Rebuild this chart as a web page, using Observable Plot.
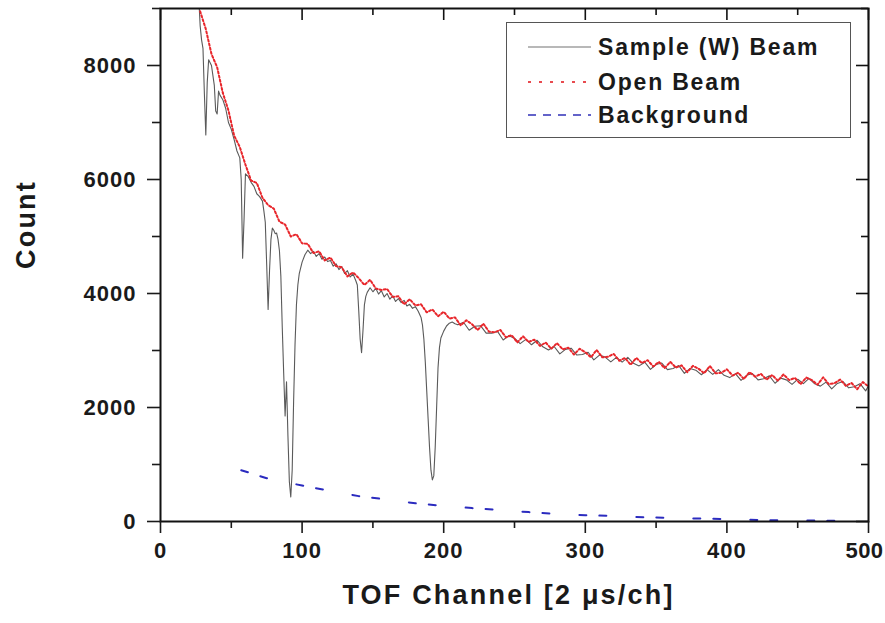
<!DOCTYPE html>
<html>
<head>
<meta charset="utf-8">
<script src="https://cdn.jsdelivr.net/npm/d3@7"></script>
<script src="https://cdn.jsdelivr.net/npm/@observablehq/plot@0.6"></script>
<style>
  body { margin: 0; background: #fff; }
  #wrap { position: relative; width: 885px; height: 623px; overflow: hidden; }
  #legend { position: absolute; left: 506px; top: 22px; width: 343px; height: 114px; border: 1.5px solid #555; background: #fff; }
  #legend text { font-family: "Liberation Sans", Arial, sans-serif; font-weight: bold; font-size: 23px; letter-spacing: 1.8px; fill: #1a1a1a; }
</style>
</head>
<body>
<div id="wrap">
  <div id="chart"></div>
  <div id="legend"></div>
</div>
<script>
// ---- data ----
const openX = [28,32,36,40,44,48,52,56,60,64,68,72,76,80,84,88,92,96,100,104,108,112,116,120,124,128,132,136,140,144,148,152,156,160,164,168,172,176,180,184,188,192,196,200,204,208,212,216,220,224,228,232,236,240,244,248,252,256,260,264,268,272,276,280,284,288,292,296,300,304,308,312,316,320,324,328,332,336,340,344,348,352,356,360,364,368,372,376,380,384,388,392,396,400,404,408,412,416,420,424,428,432,436,440,444,448,452,456,460,464,468,472,476,480,484,488,492,496,500];
const openY = [8950,8640,8200,7970,7520,7210,6770,6570,6260,5980,5940,5680,5550,5490,5260,5210,5000,5040,4880,4870,4710,4740,4580,4630,4480,4460,4300,4370,4270,4150,4240,4090,4060,4080,3940,3950,3810,3900,3790,3810,3670,3720,3600,3680,3560,3580,3440,3530,3460,3360,3470,3330,3320,3360,3230,3270,3140,3250,3150,3190,3080,3140,3030,3130,3020,3050,2930,3030,2970,2880,3010,2880,2890,2940,2820,2870,2750,2870,2780,2830,2720,2800,2690,2800,2700,2740,2620,2730,2680,2600,2730,2600,2610,2670,2560,2610,2500,2620,2540,2590,2490,2570,2470,2580,2480,2520,2410,2525,2480,2400,2530,2410,2425,2490,2380,2430,2320,2445,2370];

const sampleX = [27,28,29,30,31,32,33,34,36,38,39,40,41,42,44,46,48,50,52,54,56,57,58,59,60,62,64,66,68,70,72,73,74,75,76,77,78,79,80,81,82,83,84,85,86,87,88,89,90,91,92,93,94,95,96,97,98,100,102,104,106,108,110,112,114,116,118,120,122,124,126,128,130,132,134,136,138,139,140,141,142,143,144,145,146,148,150,152,154,156,158,160,162,164,166,168,170,172,174,176,178,180,182,184,185,186,187,188,189,190,191,192,193,194,195,196,197,198,200,202,204,206,208,210,214,218,222,226,230,234,238,242,246,250,254,258,262,266,270,274,278,282,286,290,294,298,302,306,310,314,318,322,326,330,334,338,342,346,350,354,358,362,366,370,374,378,382,386,390,394,398,402,406,410,414,418,422,426,430,434,438,442,446,450,454,458,462,466,470,474,478,482,486,490,494,498,500];
const sampleY = [9200,8700,8450,8300,7500,6780,7700,8100,8000,7650,7200,7150,7550,7480,7400,7250,7000,6880,6700,6500,6380,6000,4620,5300,6100,6050,5950,5880,5750,5700,5620,5450,5250,4500,3720,4400,4950,5150,5110,5050,5060,4950,4750,4300,3400,2600,1850,2450,1500,700,430,900,2100,3100,3800,4150,4350,4550,4680,4760,4700,4740,4650,4700,4600,4640,4560,4580,4480,4520,4420,4470,4350,4400,4290,4340,4220,4150,3700,3200,2960,3350,3800,3950,4020,4100,4030,4090,3990,4050,3940,4000,3900,3960,3860,3910,3840,3880,3780,3810,3740,3770,3690,3580,3450,3200,2800,2300,1800,1300,900,730,800,1300,2000,2700,3050,3220,3340,3430,3480,3500,3470,3450,3495,3355,3425,3435,3305,3305,3335,3185,3260,3215,3120,3195,3100,3180,3065,3010,3070,2940,3020,3040,2920,2930,2970,2835,2920,2885,2800,2880,2795,2880,2775,2730,2795,2670,2755,2780,2665,2685,2735,2600,2685,2655,2575,2665,2580,2665,2565,2525,2595,2475,2565,2595,2485,2505,2555,2425,2515,2485,2405,2495,2418,2512,2415,2375,2445,2328,2422,2455,2345,2365,2418,2292,2380];

const bgX = [57,75,100,115,140,155,180,195,220,235,260,275,300,315,345,385,425,470,490];
const bgY = [900,760,630,560,445,400,320,285,235,210,165,140,110,100,72,50,25,15,12];

const xMajor = [0,100,200,300,400,500];
const xMinor = [50,150,250,350,450];
const yMajor = [0,2000,4000,6000,8000];
const yMinor = [1000,3000,5000,7000,9000];

const seriesNames = ["Sample (W) Beam","Open Beam","Background"];
const xTitle = "TOF Channel [2 \u03bcs/ch]";
const yTitle = "Count";

// ---- tables ----
const sample = sampleX.map((x,i) => ({x, y: sampleY[i]}));
const open = openX.map((x,i) => ({x, y: openY[i]}));
const bg = bgX.map((x,i) => ({x, y: bgY[i]}));

const W = 885, H = 623, mL = 160, mR = 17, mT = 8, mB = 102;
const pw = W - mL - mR, ph = H - mT - mB;
const font = "'Liberation Sans', Arial, Helvetica, sans-serif";

const chart = Plot.plot({
  width: W, height: H,
  marginLeft: mL, marginRight: mR, marginTop: mT, marginBottom: mB,
  style: {fontFamily: font, fontSize: "22px", fontWeight: "bold", color: "#1a1a1a", background: "#fff"},
  x: {domain: [0, 500]},
  y: {domain: [0, 9000]},
  marks: [
    Plot.line(sample, {x: "x", y: "y", stroke: "#5a5a5a", strokeWidth: 1.1, clip: true}),
    Plot.line(open, {x: "x", y: "y", stroke: "#e8262b", strokeWidth: 2, strokeDasharray: "2,2.2", clip: true}),
    Plot.line(bg, {x: "x", y: "y", stroke: "#2b2bbf", strokeWidth: 2, strokeDasharray: "7,13,7,30"}),
    Plot.frame({stroke: "#111", strokeWidth: 2}),
    Plot.axisX({ticks: xMajor, tickSize: 12, tickPadding: 9, label: null, fontSize: 22, fontWeight: "bold", strokeWidth: 1.6}),
    Plot.axisX({ticks: xMinor, tickSize: 7, tickFormat: () => "", label: null, strokeWidth: 1.6}),
    Plot.axisY({ticks: yMajor, tickSize: 13, tickPadding: 11, label: null, tickFormat: d => String(d), fontSize: 22, fontWeight: "bold", strokeWidth: 1.6}),
    Plot.axisY({ticks: yMinor, tickSize: 8, tickFormat: () => "", label: null, strokeWidth: 1.6}),
    Plot.ruleX(xMajor, {stroke: "#111", strokeWidth: 1.6, insetBottom: ph - 12}),
    Plot.ruleX(xMinor, {stroke: "#111", strokeWidth: 1.6, insetBottom: ph - 7}),
    Plot.ruleY(yMajor, {stroke: "#111", strokeWidth: 1.6, insetLeft: pw - 12}),
    Plot.ruleY(yMinor, {stroke: "#111", strokeWidth: 1.6, insetLeft: pw - 7}),
    Plot.text([xTitle], {text: d => d, frameAnchor: "bottom", dy: 82, dx: -6, fontSize: 27, fontWeight: "bold"}),
    Plot.text([yTitle], {text: d => d, frameAnchor: "left", dx: -134, dy: 4, rotate: -90, fontSize: 27, fontWeight: "bold"})
  ]
});
document.getElementById("chart").appendChild(chart);

// letter spacing to match the wide bold face of the original
d3.select(chart).selectAll("text").each(function() {
  const t = this.textContent;
  if (t === xTitle || t === yTitle) this.style.letterSpacing = "2.2px";
  else if (t === "500") { this.style.letterSpacing = "0.5px"; this.setAttribute("dx", "-4"); }
  else this.style.letterSpacing = "1px";
});

// ---- legend ----
const lg = d3.select("#legend").append("svg").attr("width", 343).attr("height", 114);
const styles = [
  {stroke: "#a0a0a0", dash: null, w: 1.6},
  {stroke: "#e84a4f", dash: "3,8", w: 1.8},
  {stroke: "#3030b8", dash: "8,7", w: 1.6}
];
const rowsY = [24, 59, 92];
seriesNames.forEach((name, i) => {
  const s = styles[i];
  const ln = lg.append("line").attr("x1", 21).attr("x2", 84).attr("y1", rowsY[i]).attr("y2", rowsY[i])
    .attr("stroke", s.stroke).attr("stroke-width", s.w);
  if (s.dash) ln.attr("stroke-dasharray", s.dash);
  lg.append("text").attr("x", 91).attr("y", rowsY[i]).attr("dy", "0.36em").text(name);
});
</script>
</body>
</html>
